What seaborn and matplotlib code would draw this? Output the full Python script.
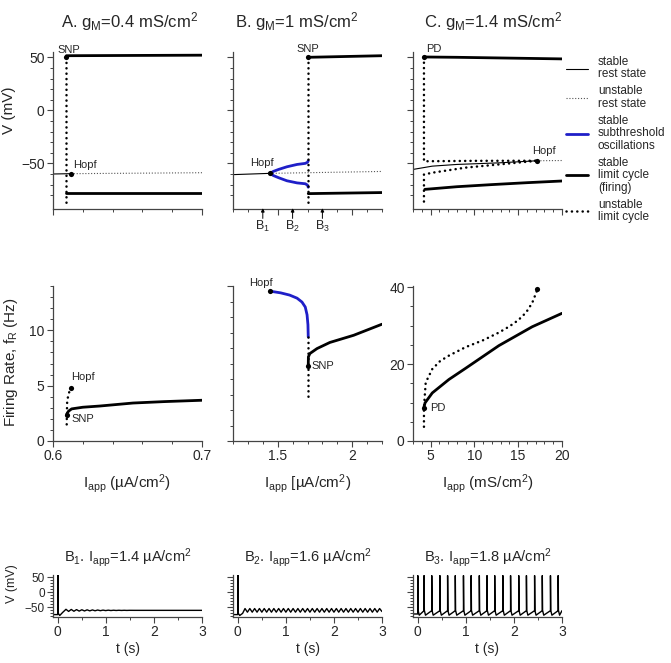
import matplotlib
matplotlib.use("Agg")
import matplotlib.pyplot as plt
from matplotlib.lines import Line2D
from matplotlib.ticker import FixedLocator, NullFormatter
import numpy as np
import seaborn as sns

W, H = 671, 663

# ---- top row: bifurcation diagrams, V (mV) vs Iapp ----
# A: gM = 0.4
a_rest_x = [0.600, 0.612]
a_rest_v = [-60.0, -59.7]
a_unrest_x = [0.612, 0.700]
a_unrest_v = [-59.7, -58.8]
a_lc_max_x = [0.609, 0.700]
a_lc_max_v = [51.5, 52.0]
a_lc_min_x = [0.609, 0.700]
a_lc_min_v = [-78.0, -78.0]
a_unlc_x = [0.609, 0.609]
a_unlc_v = [50.0, -88.0]
a_snp = (0.609, 50.0)
a_hopf = (0.612, -59.7)

# B: gM = 1
b_rest_x = [1.20, 1.448]
b_rest_v = [-60.6, -59.4]
b_unrest_x = [1.448, 2.20]
b_unrest_v = [-59.4, -57.6]
b_sub_up_x = [1.448, 1.47, 1.506, 1.562, 1.63, 1.685, 1.700, 1.705]
b_sub_up_v = [-59.4, -57.6, -55.7, -53.2, -51.0, -50.0, -49.0, -47.5]
b_sub_lo_x = [1.448, 1.47, 1.506, 1.562, 1.63, 1.685, 1.700, 1.705]
b_sub_lo_v = [-59.4, -61.4, -63.5, -66.4, -68.4, -69.2, -70.5, -72.5]
b_lc_max_x = [1.705, 2.20]
b_lc_max_v = [50.0, 51.5]
b_lc_min_x = [1.705, 2.20]
b_lc_min_v = [-78.5, -77.5]
b_unlc_x = [1.705, 1.705]
b_unlc_v = [50.0, -88.0]
b_snp = (1.705, 50.0)
b_hopf = (1.448, -59.4)
b_markers = [1.4, 1.6, 1.8]
b_marker_labels = ["B$_1$", "B$_2$", "B$_3$"]

# C: gM = 1.4
c_rest_x = [3.0, 5.2, 8.0, 12.8, 17.2]
c_rest_v = [-55.7, -52.6, -51.0, -49.5, -47.5]
c_unrest_x = [17.2, 20.0]
c_unrest_v = [-47.5, -47.3]
c_lc_max_x = [4.25, 8.0, 12.0, 16.0, 20.0]
c_lc_max_v = [50.3, 50.0, 49.5, 49.0, 48.5]
c_lc_min_x = [4.35, 8.0, 12.0, 16.0, 20.0]
c_lc_min_v = [-74.5, -72.0, -70.0, -68.2, -66.6]
c_unlc_top_x = [4.25, 4.25, 10.0, 17.2]
c_unlc_top_v = [50.0, -48.0, -47.6, -47.5]
c_unlc_bot_x = [4.25, 4.25, 5.2, 9.0, 12.8, 17.2]
c_unlc_bot_v = [-86.0, -60.5, -58.8, -54.0, -51.0, -47.5]
c_pd = (4.25, 50.0)
c_hopf = (17.2, -47.5)

# ---- middle row: firing rate (Hz) vs Iapp ----
ma_lc_x = [0.6093, 0.6097, 0.6105, 0.6125, 0.620, 0.6315, 0.6537, 0.675, 0.700]
ma_lc_f = [2.38, 2.55, 2.70, 2.90, 3.05, 3.16, 3.43, 3.56, 3.68]
ma_unlc_x = [0.6092, 0.6093, 0.6095, 0.6103, 0.612]
ma_unlc_f = [1.5, 2.38, 3.5, 4.2, 4.8]
ma_snp = (0.6093, 2.38)
ma_hopf = (0.612, 4.8)

mb_sub_x = [1.45, 1.52, 1.58, 1.63, 1.663, 1.685, 1.697, 1.703, 1.705]
mb_sub_f = [13.53, 13.38, 13.18, 12.90, 12.55, 12.10, 11.40, 10.50, 9.40]
mb_unlc_x = [1.705, 1.705]
mb_unlc_f = [9.4, 3.7]
mb_lc_x = [1.705, 1.706, 1.716, 1.764, 1.85, 2.01, 2.20]
mb_lc_f = [6.75, 7.60, 7.90, 8.35, 8.90, 9.55, 10.55]
mb_snp = (1.705, 6.75)
mb_hopf = (1.45, 13.53)

mc_lc_x = [4.25, 4.37, 5.2, 7.1, 9.0, 12.8, 16.6, 20.0]
mc_lc_f = [8.7, 9.9, 12.5, 16.0, 18.9, 24.8, 29.7, 33.2]
mc_unlc_x = [4.25, 4.25, 4.45, 5.2, 6.1, 7.1, 9.0, 11.0, 12.8, 14.0, 15.0, 15.9, 16.6, 17.2]
mc_unlc_f = [3.7, 8.7, 15.2, 18.7, 20.8, 22.2, 24.4, 26.2, 28.2, 29.8, 31.4, 33.4, 35.9, 39.4]
mc_pd = (4.25, 8.7)
mc_hopf = (17.2, 39.4)

# ---- bottom row: voltage traces ----
b1_t = [-0.10, 0.000, 0.000, 0.010, 0.040, 0.100, 0.170,
        0.225, 0.280, 0.335, 0.390, 0.445, 0.500, 0.555, 0.610, 0.665, 0.720,
        0.775, 0.830, 0.885, 0.940, 0.995, 1.050, 1.105, 1.160, 1.215, 1.270,
        1.325, 1.380, 1.435, 1.490, 1.600, 3.00]
b1_v = [-74.0, -74.0, 60.0, -70.0, -77.0, -67.0, -56.5,
        -63.5, -57.0, -63.0, -57.5, -62.5, -58.0, -62.0, -58.3, -61.7, -58.6,
        -61.4, -58.9, -61.1, -59.2, -60.8, -59.4, -60.6, -59.6, -60.4, -59.7,
        -60.3, -59.8, -60.2, -59.9, -60.0, -60.0]
b2_t = [-0.10, 0.000, 0.000, 0.010, 0.040, 0.100, 0.150, 0.200, 0.250, 0.300,
        0.350, 0.400, 0.450, 0.500, 0.550, 0.600, 0.650, 0.700, 0.750, 0.800,
        0.850, 0.900, 0.950, 1.000, 1.050, 1.100, 1.150, 1.200, 1.250, 1.300,
        1.350, 1.400, 1.450, 1.500, 1.550, 1.600, 1.650, 1.700, 1.750, 1.800,
        1.850, 1.900, 1.950, 2.000, 2.050, 2.100, 2.150, 2.200, 2.250, 2.300,
        2.350, 2.400, 2.450, 2.500, 2.550, 2.600, 2.650, 2.700, 2.750, 2.800,
        2.850, 2.900, 2.950, 3.000]
b2_v = [-74.0, -74.0, 60.0, -70.0, -77.0, -70.0, -54.0, -66.0, -54.0, -66.0,
        -54.0, -66.0, -54.0, -66.0, -54.0, -66.0, -54.0, -66.0, -54.0, -66.0,
        -54.0, -66.0, -54.0, -66.0, -54.0, -66.0, -54.0, -66.0, -54.0, -66.0,
        -54.0, -66.0, -54.0, -66.0, -54.0, -66.0, -54.0, -66.0, -54.0, -66.0,
        -54.0, -66.0, -54.0, -66.0, -54.0, -66.0, -54.0, -66.0, -54.0, -66.0,
        -54.0, -66.0, -54.0, -66.0, -54.0, -66.0, -54.0, -66.0, -54.0, -66.0,
        -54.0, -66.0, -54.0, -64.0]
b3_spikes = [0.00, 0.13, 0.29, 0.46, 0.62, 0.78, 0.95, 1.11, 1.28, 1.44,
             1.60, 1.77, 1.93, 2.10, 2.26, 2.43, 2.59, 2.76, 2.92]
b3_pre_v = -72.0
b3_peak_v = 55.0
b3_trough_v = -76.0
b3_thresh_v = -61.0

BLUE = "#1f1fc8"
DOT_GRAY = "#555555"


def frame(x0, y0, x1, y1):
    return [x0 / W, 1 - y1 / H, (x1 - x0) / W, (y1 - y0) / H]


def line(ax, x, y, kind):
    styles = {
        "rest": dict(color="black", lw=0.8),
        "unrest": dict(color=DOT_GRAY, lw=0.8, linestyle=(0, (1, 1.6))),
        "sub": dict(color=BLUE, lw=2.0),
        "lc": dict(color="black", lw=2.0),
        "unlc": dict(color="black", lw=1.8, linestyle=(0, (0.05, 2.1)),
                     dash_capstyle="round"),
        "trace": dict(color="black", lw=1.0),
    }
    sns.lineplot(x=x, y=y, sort=False, estimator=None, ax=ax, legend=False,
                 **styles[kind])


def point(ax, xy):
    sns.scatterplot(x=[xy[0]], y=[xy[1]], s=14, color="black", linewidth=0,
                    ax=ax, legend=False, zorder=5)


def label(ax, xy, text, dx, dy, ha="center"):
    ax.annotate(text, xy=xy, xytext=(dx, dy), textcoords="offset points",
                ha=ha, va="center", fontsize=8)


def style_axis(ax, xlim, ylim, xmaj, xmin, ymaj, ymin, xlabels=True, ylabels=True,
               tick_fs=10):
    ax.set_xlim(*xlim)
    ax.set_ylim(*ylim)
    ax.xaxis.set_major_locator(FixedLocator(xmaj))
    ax.xaxis.set_minor_locator(FixedLocator(xmin))
    ax.yaxis.set_major_locator(FixedLocator(ymaj))
    ax.yaxis.set_minor_locator(FixedLocator(ymin))
    sns.despine(ax=ax)
    for side in ["left", "bottom"]:
        ax.spines[side].set_color("#444444")
        ax.spines[side].set_linewidth(0.9)
    ax.tick_params(which="major", direction="out", length=4, width=0.8,
                   color="#444444", labelsize=tick_fs, pad=2)
    ax.tick_params(which="minor", direction="out", length=2.2, width=0.7,
                   color="#444444")
    if not xlabels:
        ax.xaxis.set_major_formatter(NullFormatter())
    if not ylabels:
        ax.yaxis.set_major_formatter(NullFormatter())
    ax.set_xlabel("")
    ax.set_ylabel("")


sns.set_theme(style="ticks")
plt.rcParams["font.family"] = ["Liberation Sans", "DejaVu Sans"]
plt.rcParams["mathtext.fontset"] = "custom"
plt.rcParams["mathtext.rm"] = "Liberation Sans"
plt.rcParams["mathtext.it"] = "Liberation Sans"
plt.rcParams["mathtext.default"] = "regular"

fig = plt.figure(figsize=(W / 100, H / 100), dpi=100)

cols = [(53, 202), (233, 382), (413, 562)]
top = (52, 209)
mid = (286, 441)
bot = (575, 617)

v_ticks = [-50, 0, 50]
v_minor = list(range(-80, 51, 10))

# ---- top row ----
ax = fig.add_axes(frame(cols[0][0], top[0], cols[0][1], top[1]))
line(ax, a_rest_x, a_rest_v, "rest")
line(ax, a_unrest_x, a_unrest_v, "unrest")
line(ax, a_lc_max_x, a_lc_max_v, "lc")
line(ax, a_lc_min_x, a_lc_min_v, "lc")
line(ax, a_unlc_x, a_unlc_v, "unlc")
point(ax, a_snp)
point(ax, a_hopf)
label(ax, a_snp, "SNP", 2, 5.5)
label(ax, a_hopf, "Hopf", 1.5, 6, ha="left")
style_axis(ax, (0.6, 0.7), (-93, 55), [0.6, 0.7], list(np.arange(0.6, 0.7001, 0.02)),
           v_ticks, v_minor, xlabels=False)
ax.set_ylabel("V (mV)", fontsize=11)
ax.yaxis.set_label_coords(-0.245, 0.63)

ax = fig.add_axes(frame(cols[1][0], top[0], cols[1][1], top[1]))
line(ax, b_rest_x, b_rest_v, "rest")
line(ax, b_unrest_x, b_unrest_v, "unrest")
line(ax, b_sub_up_x, b_sub_up_v, "sub")
line(ax, b_sub_lo_x, b_sub_lo_v, "sub")
line(ax, b_lc_max_x, b_lc_max_v, "lc")
line(ax, b_lc_min_x, b_lc_min_v, "lc")
line(ax, b_unlc_x, b_unlc_v, "unlc")
point(ax, b_snp)
point(ax, b_hopf)
label(ax, b_snp, "SNP", 0, 6)
label(ax, b_hopf, "Hopf", -6, 7.5)
style_axis(ax, (1.2, 2.2), (-93, 55), [1.5, 2.0], list(np.arange(1.2, 2.2001, 0.1)),
           v_ticks, v_minor, xlabels=False, ylabels=False)
for xm, lab in zip(b_markers, b_marker_labels):
    ax.annotate("", xy=(xm, 0.005), xytext=(xm, -0.06),
                xycoords=("data", "axes fraction"), textcoords=("data", "axes fraction"),
                arrowprops=dict(arrowstyle="-|>", lw=0.7, color="black",
                                mutation_scale=5, shrinkA=0, shrinkB=0),
                annotation_clip=False)
    ax.text(xm, -0.065, lab, transform=ax.get_xaxis_transform(), ha="center",
            va="top", fontsize=9)

ax = fig.add_axes(frame(cols[2][0], top[0], cols[2][1], top[1]))
line(ax, c_rest_x, c_rest_v, "rest")
line(ax, c_unrest_x, c_unrest_v, "unrest")
line(ax, c_lc_max_x, c_lc_max_v, "lc")
line(ax, c_lc_min_x, c_lc_min_v, "lc")
line(ax, c_unlc_top_x, c_unlc_top_v, "unlc")
line(ax, c_unlc_bot_x, c_unlc_bot_v, "unlc")
point(ax, c_pd)
point(ax, c_hopf)
label(ax, c_pd, "PD", 1.5, 6, ha="left")
label(ax, c_hopf, "Hopf", 5, 7)
style_axis(ax, (3, 20), (-93, 55), [5, 10, 15, 20], list(range(3, 21)),
           v_ticks, v_minor, xlabels=False, ylabels=False)

# ---- middle row ----
ax = fig.add_axes(frame(cols[0][0], mid[0], cols[0][1], mid[1]))
line(ax, ma_unlc_x, ma_unlc_f, "unlc")
line(ax, ma_lc_x, ma_lc_f, "lc")
point(ax, ma_snp)
point(ax, ma_hopf)
label(ax, ma_hopf, "Hopf", 0, 8, ha="left")
label(ax, ma_snp, "SNP", 3.6, -3.4, ha="left")
style_axis(ax, (0.6, 0.7), (0, 14), [0.6, 0.7], list(np.arange(0.6, 0.7001, 0.02)),
           [0, 5, 10], list(range(0, 15)))
ax.set_xticklabels(["0.6", "0.7"])
ax.set_ylabel("Firing Rate, f$_R$ (Hz)", fontsize=11)
ax.yaxis.set_label_coords(-0.22, 0.51)
ax.set_xlabel("I$_{app}$ (\u00b5A/cm$^2$)", fontsize=11, labelpad=6)

ax = fig.add_axes(frame(cols[1][0], mid[0], cols[1][1], mid[1]))
line(ax, mb_sub_x, mb_sub_f, "sub")
line(ax, mb_unlc_x, mb_unlc_f, "unlc")
line(ax, mb_lc_x, mb_lc_f, "lc")
point(ax, mb_snp)
point(ax, mb_hopf)
label(ax, mb_hopf, "Hopf", -6.5, 6)
label(ax, mb_snp, "SNP", 2, 0, ha="left")
style_axis(ax, (1.2, 2.2), (0, 14), [1.5, 2.0], list(np.arange(1.2, 2.2001, 0.1)),
           [0, 14], list(np.linspace(0, 14, 11)), ylabels=False)
ax.set_xticklabels(["1.5", "2"])
ax.set_xlabel("I$_{app}$ [\u00b5A/cm$^2$)", fontsize=11, labelpad=6)

ax = fig.add_axes(frame(cols[2][0], mid[0], cols[2][1], mid[1]))
line(ax, mc_unlc_x, mc_unlc_f, "unlc")
line(ax, mc_lc_x, mc_lc_f, "lc")
point(ax, mc_pd)
point(ax, mc_hopf)
label(ax, mc_pd, "PD", 4.8, 0, ha="left")
style_axis(ax, (3, 20), (0, 40.3), [5, 10, 15, 20], list(range(3, 21)),
           [0, 20, 40], list(range(0, 41, 5)))
ax.set_xlabel("I$_{app}$ (mS/cm$^2$)", fontsize=11, labelpad=6)

# ---- bottom row ----
def b3_trace():
    t = [-0.10, b3_spikes[0]]
    v = [b3_pre_v, b3_pre_v]
    for i, ts in enumerate(b3_spikes):
        t += [ts, ts + 0.006, ts + 0.03]
        v += [b3_peak_v, -60.0, b3_trough_v]
        nxt = b3_spikes[i + 1] if i + 1 < len(b3_spikes) else 3.0
        t.append(nxt)
        v.append(b3_thresh_v)
    return t, v


b3_t, b3_v = b3_trace()
traces = [(b1_t, b1_v, "B$_1$. I$_{app}$=1.4 \u00b5A/cm$^2$"),
          (b2_t, b2_v, "B$_2$. I$_{app}$=1.6 \u00b5A/cm$^2$"),
          (b3_t, b3_v, "B$_3$. I$_{app}$=1.8 \u00b5A/cm$^2$")]
for i, (t, v, title) in enumerate(traces):
    ax = fig.add_axes(frame(cols[i][0], bot[0], cols[i][1], bot[1]))
    line(ax, t, v, "trace")
    style_axis(ax, (-0.1, 3.0), (-82, 57), [0, 1, 2, 3], list(np.arange(0, 3.01, 0.5)),
               v_ticks, v_minor, ylabels=(i == 0), tick_fs=10)
    ax.tick_params(axis="y", labelsize=8.5)
    ax.set_xlabel("t (s)", fontsize=10, labelpad=2)
    ax.set_title(title, fontsize=10.5, pad=10)
    if i == 0:
        ax.set_ylabel("V (mV)", fontsize=9)
        ax.yaxis.set_label_coords(-0.235, 0.8)

# ---- column titles ----
for xc, txt in [(130, "A. g$_M$=0.4 mS/cm$^2$"), (297, "B. g$_M$=1 mS/cm$^2$"),
                (493, "C. g$_M$=1.4 mS/cm$^2$")]:
    fig.text(xc / W, 1 - 27 / H, txt, ha="center", va="baseline", fontsize=12)

# ---- legend ----
handles = [
    Line2D([], [], color="black", lw=0.8),
    Line2D([], [], color=DOT_GRAY, lw=0.8, linestyle=(0, (1, 1.6))),
    Line2D([], [], color=BLUE, lw=2.0),
    Line2D([], [], color="black", lw=2.0),
    Line2D([], [], color="black", lw=1.8, linestyle=(0, (0.05, 2.1)),
           dash_capstyle="round"),
]
labels = ["stable\nrest state", "unstable\nrest state",
          "stable\nsubthreshold\noscillations", "stable\nlimit cycle\n(firing)",
          "unstable\nlimit cycle"]
leg = fig.legend(handles, labels, loc="upper left", bbox_to_anchor=(566 / W, 1 - 56 / H),
                 frameon=False, fontsize=8.5, handlelength=1.9, handletextpad=0.8,
                 labelspacing=0.42, borderpad=0, borderaxespad=0)
for txt in leg.get_texts():
    txt.set_linespacing(1.05)

fig.savefig("out.png", dpi=100)
